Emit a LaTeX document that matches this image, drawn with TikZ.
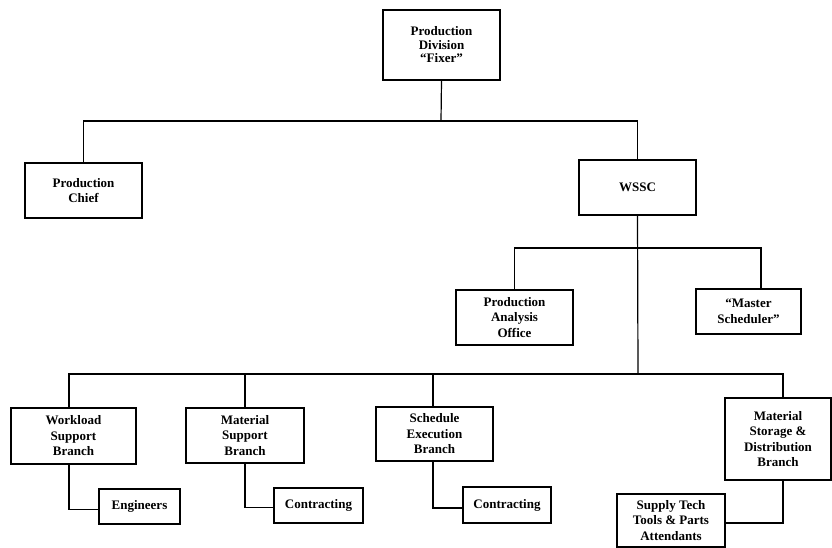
\documentclass[tikz,border=0pt]{standalone}
\usepackage{fontspec}
\setmainfont{Liberation Serif}
\begin{document}
\begin{tikzpicture}[x=1pt,y=-1pt,
  box/.style={draw,line width=1.2pt,rectangle,align=center,inner sep=1pt,
    font=\fontsize{13}{15.5}\selectfont\bfseries},
  conn/.style={line width=1.2pt}]
\useasboundingbox (0,0) rectangle (832,548);
% nodes
\node[box,minimum width=117pt,minimum height=70pt,font=\fontsize{13}{13.5}\selectfont\bfseries] (top) at (441.5,45) {Production\\Division\\``Fixer''};
\node[box,minimum width=117pt,minimum height=55pt] (chief) at (83.5,190.5) {Production\\Chief};
\node[box,minimum width=117pt,minimum height=55pt] (wssc) at (637.5,187.5) {WSSC};
\node[box,minimum width=117pt,minimum height=55pt] (pao) at (514.5,317.5) {Production\\Analysis\\Office};
\node[box,minimum width=105pt,minimum height=45pt] (mst) at (748.5,311.5) {``Master\\Scheduler''};
\node[box,minimum width=125pt,minimum height=56pt] (wl) at (73.5,436) {Workload\\Support\\Branch};
\node[box,minimum width=81pt,minimum height=35pt] (eng) at (139.5,506.5) {Engineers};
\node[box,minimum width=118pt,minimum height=55pt] (ms) at (245,435.5) {Material\\Support\\Branch};
\node[box,minimum width=89pt,minimum height=35pt] (con1) at (318.5,505.5) {Contracting};
\node[box,minimum width=117pt,minimum height=54pt] (se) at (434.5,434) {Schedule\\Execution\\Branch};
\node[box,minimum width=88pt,minimum height=36pt] (con2) at (507,505) {Contracting};
\node[box,minimum width=106pt,minimum height=82pt] (msd) at (778,439) {Material\\Storage \&\\Distribution\\Branch};
\node[box,minimum width=108pt,minimum height=53pt] (sup) at (671,520.5) {Supply Tech\\Tools \& Parts\\Attendants};
% bus coordinates
\coordinate (b1) at (441,121);
\coordinate (b2) at (638,248);
\coordinate (b3) at (638,374);
% connectors
\draw[conn] (top.south) -- (b1);
\draw[conn] (chief.north) |- (b1) -| (wssc.north);
\draw[conn] (wssc.south) -- (b3);
\draw[conn] (pao.north) |- (b2) -| ([xshift=12.5pt]mst.north);
\draw[conn] ([xshift=-4.5pt]wl.north) |- (b3) -| ([xshift=5pt]msd.north);
\draw[conn] (ms.north) -- (ms.north |- b3);
\draw[conn] ([xshift=-1.5pt]se.north) -- ([xshift=-1.5pt]se.north |- b3);
\draw[conn] ([xshift=-4.5pt]wl.south) |- ([yshift=-3pt]eng.west);
\draw[conn] (ms.south) |- ([yshift=-2pt]con1.west);
\draw[conn] ([xshift=-1.5pt]se.south) |- ([yshift=-3pt]con2.west);
\draw[conn] ([xshift=5pt]msd.south) |- ([yshift=-2.5pt]sup.east);
\end{tikzpicture}
\end{document}
